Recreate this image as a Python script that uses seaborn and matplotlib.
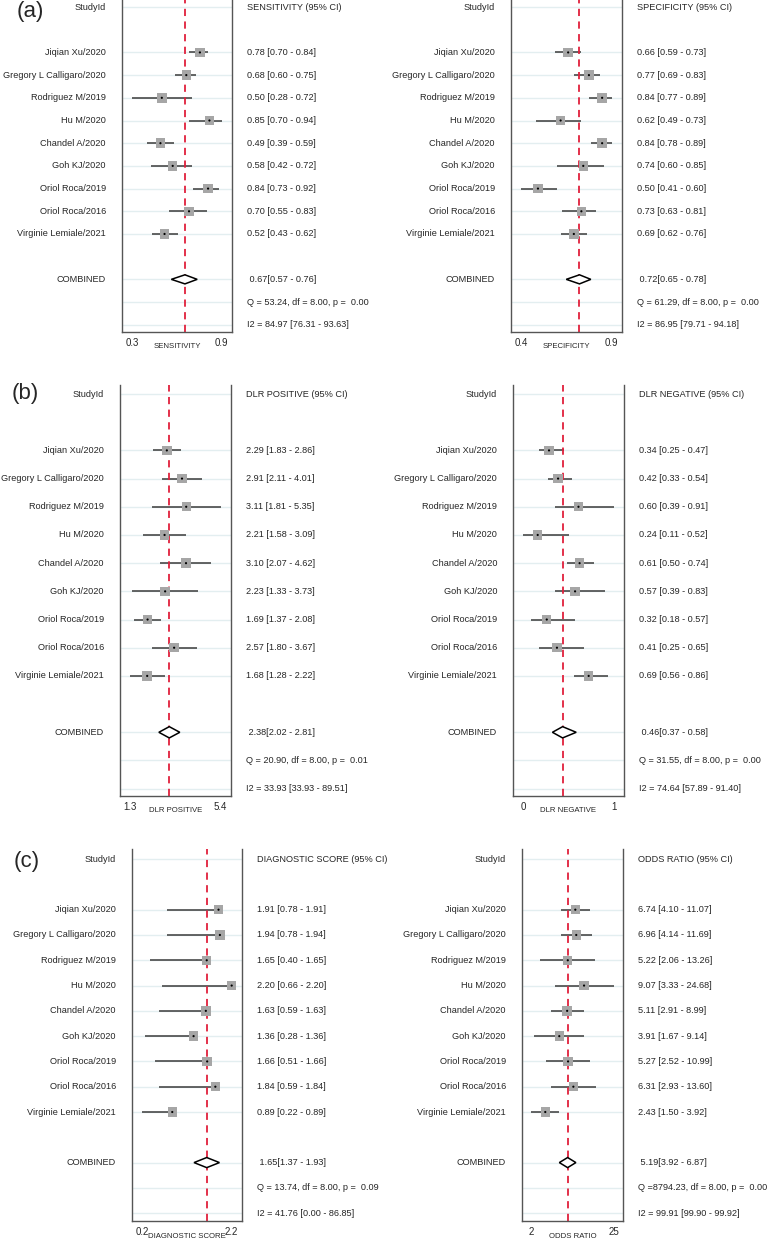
import numpy as np
import pandas as pd
import matplotlib
matplotlib.use("Agg")
import matplotlib.pyplot as plt
import seaborn as sns

# ---- data ----
STUDIES = ["Jiqian Xu/2020", "Gregory L Calligaro/2020", "Rodriguez M/2019",
           "Hu M/2020", "Chandel A/2020", "Goh KJ/2020", "Oriol Roca/2019",
           "Oriol Roca/2016", "Virginie Lemiale/2021"]

SENS = [0.78, 0.68, 0.50, 0.85, 0.49, 0.58, 0.84, 0.70, 0.52]
SENS_LO = [0.70, 0.60, 0.28, 0.70, 0.39, 0.42, 0.73, 0.55, 0.43]
SENS_HI = [0.84, 0.75, 0.72, 0.94, 0.59, 0.72, 0.92, 0.83, 0.62]
SENS_POOLED = [0.67, 0.57, 0.76]
SENS_HET = [53.24, 8.00, 0.00]
SENS_I2 = [84.97, 76.31, 93.63]
SENS_TICKS = ["0.3", "0.9"]

SPEC = [0.66, 0.77, 0.84, 0.62, 0.84, 0.74, 0.50, 0.73, 0.69]
SPEC_LO = [0.59, 0.69, 0.77, 0.49, 0.78, 0.60, 0.41, 0.63, 0.62]
SPEC_HI = [0.73, 0.83, 0.89, 0.73, 0.89, 0.85, 0.60, 0.81, 0.76]
SPEC_POOLED = [0.72, 0.65, 0.78]
SPEC_HET = [61.29, 8.00, 0.00]
SPEC_I2 = [86.95, 79.71, 94.18]
SPEC_TICKS = ["0.4", "0.9"]

DLRP = [2.29, 2.91, 3.11, 2.21, 3.10, 2.23, 1.69, 2.57, 1.68]
DLRP_LO = [1.83, 2.11, 1.81, 1.58, 2.07, 1.33, 1.37, 1.80, 1.28]
DLRP_HI = [2.86, 4.01, 5.35, 3.09, 4.62, 3.73, 2.08, 3.67, 2.22]
DLRP_POOLED = [2.38, 2.02, 2.81]
DLRP_HET = [20.90, 8.00, 0.01]
DLRP_I2 = [33.93, 33.93, 89.51]
DLRP_TICKS = ["1.3", "5.4"]

DLRN = [0.34, 0.42, 0.60, 0.24, 0.61, 0.57, 0.32, 0.41, 0.69]
DLRN_LO = [0.25, 0.33, 0.39, 0.11, 0.50, 0.39, 0.18, 0.25, 0.56]
DLRN_HI = [0.47, 0.54, 0.91, 0.52, 0.74, 0.83, 0.57, 0.65, 0.86]
DLRN_POOLED = [0.46, 0.37, 0.58]
DLRN_HET = [31.55, 8.00, 0.00]
DLRN_I2 = [74.64, 57.89, 91.40]
DLRN_TICKS = ["0", "1"]

DSCORE = [1.91, 1.94, 1.65, 2.20, 1.63, 1.36, 1.66, 1.84, 0.89]
DSCORE_LO = [0.78, 0.78, 0.40, 0.66, 0.59, 0.28, 0.51, 0.59, 0.22]
DSCORE_HI = [1.91, 1.94, 1.65, 2.20, 1.63, 1.36, 1.66, 1.84, 0.89]
DSCORE_POOLED = [1.65, 1.37, 1.93]
DSCORE_HET = [13.74, 8.00, 0.09]
DSCORE_I2 = [41.76, 0.00, 86.85]
DSCORE_TICKS = ["0.2", "2.2"]

ODDS = [6.74, 6.96, 5.22, 9.07, 5.11, 3.91, 5.27, 6.31, 2.43]
ODDS_LO = [4.10, 4.14, 2.06, 3.33, 2.91, 1.67, 2.52, 2.93, 1.50]
ODDS_HI = [11.07, 11.69, 13.26, 24.68, 8.99, 9.14, 10.99, 13.60, 3.92]
ODDS_POOLED = [5.19, 3.92, 6.87]
ODDS_HET = [8794.23, 8.00, 0.00]
ODDS_I2 = [99.91, 99.90, 99.92]
ODDS_TICKS = ["2", "25"]

# ---- layout (pixels) ----
W, H = 775, 1239
FONT = "Liberation Sans"
TXT = 6.6
GRID_ROWS = [0] + list(range(2, 11)) + [12, 13, 14]


def make_axes(fig, left, right, top, bottom):
    return fig.add_axes([left / W, 1 - bottom / H, (right - left) / W, (bottom - top) / H])


def forest(ax, name, est, lo, hi, pooled, het, i2, ticklabels, ylims, log=False):
    rows = np.arange(2, 2 + len(est))
    df = pd.DataFrame({"study": STUDIES, "est": est, "lo": lo, "hi": hi, "row": rows})

    if log:
        ax.set_xscale("log")
    tmin, tmax = min(lo), max(hi)
    f = np.log if log else (lambda v: v)
    g = np.exp if log else (lambda v: v)
    span = f(tmax) - f(tmin)
    ax.set_xlim(g(f(tmin) - 0.11 * span), g(f(tmax) + 0.115 * span))
    ax.set_ylim(*ylims)

    # faint row lines
    for r in GRID_ROWS:
        ax.axhline(r, color="#e3eef0", lw=1.0, zorder=0)

    ax.hlines(df["row"], df["lo"], df["hi"], color="#3a3a3a", lw=1.1, zorder=2)
    sns.scatterplot(data=df, x="est", y="row", marker="s", s=46, color="#a6a6a6",
                    edgecolor="none", ax=ax, zorder=3, legend=False)
    sns.scatterplot(data=df, x="est", y="row", marker="o", s=2.5, color="black",
                    edgecolor="none", ax=ax, zorder=4, legend=False)

    # pooled diamond
    p, plo, phi = pooled
    ax.fill([plo, p, phi, p], [12, 11.8, 12, 12.2], facecolor="white",
            edgecolor="black", lw=1.1, zorder=3)
    ax.axvline(p, color="#e0203c", ls=(0, (4, 3)), lw=1.3, zorder=2.5)

    # axes styling
    ax.spines["top"].set_visible(False)
    for s in ["left", "right", "bottom"]:
        ax.spines[s].set_color("#555555")
        ax.spines[s].set_linewidth(1.0)
    ax.set_yticks([])
    ax.minorticks_off()
    ax.set_xticks([tmin, tmax])
    ax.set_xticklabels(ticklabels, fontsize=7, family=FONT)
    ax.tick_params(axis="x", length=3, width=0.8, pad=1.5, color="#555555")
    ax.set_xlabel("")
    ax.set_ylabel("")
    ax.annotate(name, xy=(0.5, 0), xycoords="axes fraction", xytext=(0, -15),
                textcoords="offset pixels", ha="center", va="center",
                fontsize=5.6, family=FONT)

    # left labels
    left_items = [(0, "StudyId")] + list(zip(rows, STUDIES)) + [(12, "COMBINED")]
    for r, t in left_items:
        ax.annotate(t, xy=(0, r), xycoords=("axes fraction", "data"), xytext=(-16, 0),
                    textcoords="offset pixels", ha="right", va="center",
                    fontsize=TXT, family=FONT, annotation_clip=False)

    # right labels
    right_items = [(0, f"{name} (95% CI)")]
    right_items += [(r, f"{e:.2f} [{a:.2f} - {b:.2f}]") for r, e, a, b in zip(rows, est, lo, hi)]
    right_items.append((12, f" {p:.2f}[{plo:.2f} - {phi:.2f}]"))
    q, dfree, pv = het
    right_items.append((13, f"Q ={q:6.2f}, df = {dfree:.2f}, p = {pv:5.2f}"))
    right_items.append((14, f"I2 = {i2[0]:.2f} [{i2[1]:.2f} - {i2[2]:.2f}]"))
    for r, t in right_items:
        ax.annotate(t, xy=(1, r), xycoords=("axes fraction", "data"), xytext=(15, 0),
                    textcoords="offset pixels", ha="left", va="center",
                    fontsize=TXT, family=FONT, annotation_clip=False)


def main():
    sns.set_style("white")
    plt.rcParams["font.family"] = [FONT, "DejaVu Sans"]
    fig = plt.figure(figsize=(W / 100, H / 100), dpi=100)

    ya = (14.32, -0.31)
    yb = (14.26, -0.32)
    yc = (14.31, -0.40)

    ax = make_axes(fig, 122, 232, 0, 332)
    forest(ax, "SENSITIVITY", SENS, SENS_LO, SENS_HI, SENS_POOLED, SENS_HET, SENS_I2, SENS_TICKS, ya)
    ax = make_axes(fig, 511, 622, 0, 332)
    forest(ax, "SPECIFICITY", SPEC, SPEC_LO, SPEC_HI, SPEC_POOLED, SPEC_HET, SPEC_I2, SPEC_TICKS, ya)

    ax = make_axes(fig, 120, 231, 385, 796)
    forest(ax, "DLR POSITIVE", DLRP, DLRP_LO, DLRP_HI, DLRP_POOLED, DLRP_HET, DLRP_I2, DLRP_TICKS, yb, log=True)
    ax = make_axes(fig, 513, 624, 385, 796)
    forest(ax, "DLR NEGATIVE", DLRN, DLRN_LO, DLRN_HI, DLRN_POOLED, DLRN_HET, DLRN_I2, DLRN_TICKS, yb)

    ax = make_axes(fig, 132, 242, 849, 1221)
    forest(ax, "DIAGNOSTIC SCORE", DSCORE, DSCORE_LO, DSCORE_HI, DSCORE_POOLED, DSCORE_HET, DSCORE_I2, DSCORE_TICKS, yc)
    ax = make_axes(fig, 522, 623, 849, 1221)
    forest(ax, "ODDS RATIO", ODDS, ODDS_LO, ODDS_HI, ODDS_POOLED, ODDS_HET, ODDS_I2, ODDS_TICKS, yc, log=True)

    # panel letters
    for t, x, y in [("(a)", 30, 11), ("(b)", 25, 393), ("(c)", 27, 861)]:
        fig.text(x / W, 1 - y / H, t, ha="center", va="center", fontsize=16, family=FONT)

    fig.savefig("out.png", dpi=100)
    plt.close(fig)


if __name__ == "__main__":
    main()
